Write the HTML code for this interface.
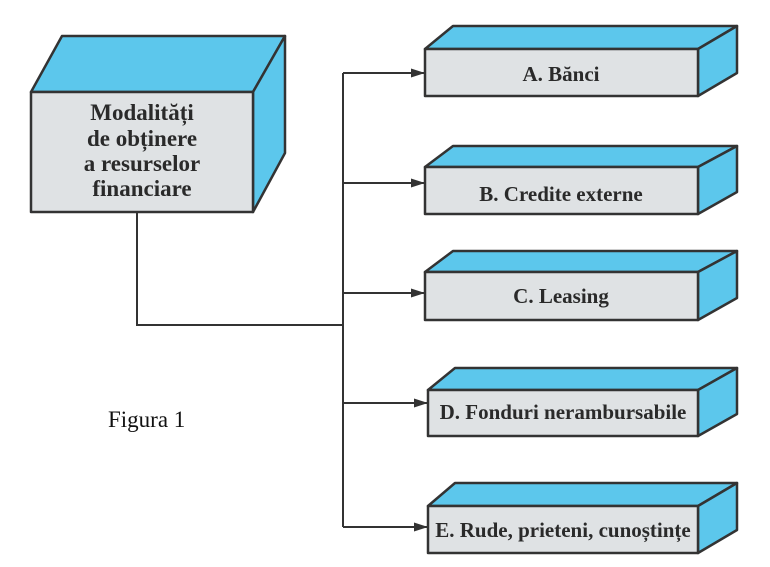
<!DOCTYPE html>
<html><head><meta charset="utf-8"><style>body{margin:0;background:#fff}svg{display:block}</style></head><body>
<svg width="770" height="567" viewBox="0 0 770 567" xmlns="http://www.w3.org/2000/svg">
<defs><marker id="ar" markerWidth="14" markerHeight="9" refX="14" refY="4.5" orient="auto" markerUnits="userSpaceOnUse"><path d="M0,0 L14,4.5 L0,9 z" fill="#333"/></marker></defs>
<g stroke="#333" stroke-width="2.5" stroke-linejoin="round">
<polygon points="31,92 62,36 285,36 253,92" fill="#5cc7ec"/>
<polygon points="253,92 285,36 285,153 253,212" fill="#5cc7ec"/>
<rect x="31" y="92" width="222" height="120" fill="#dfe2e4"/>
<polygon points="425,49 453,26 737,26 698,49" fill="#5cc7ec"/><polygon points="698,49 737,26 737,73 698,96" fill="#5cc7ec"/><rect x="425" y="49" width="273" height="47" fill="#dfe2e4"/>
<polygon points="425,167 453,146 737,146 698,167" fill="#5cc7ec"/><polygon points="698,167 737,146 737,192 698,214" fill="#5cc7ec"/><rect x="425" y="167" width="273" height="47" fill="#dfe2e4"/>
<polygon points="425,272 453,251 737,251 698,272" fill="#5cc7ec"/><polygon points="698,272 737,251 737,298 698,320" fill="#5cc7ec"/><rect x="425" y="272" width="273" height="48" fill="#dfe2e4"/>
<polygon points="428,390 455,368 737,368 698,390" fill="#5cc7ec"/><polygon points="698,390 737,368 737,414 698,436" fill="#5cc7ec"/><rect x="428" y="390" width="270" height="46" fill="#dfe2e4"/>
<polygon points="428,506 455,483 737,483 698,506" fill="#5cc7ec"/><polygon points="698,506 737,483 737,530 698,553" fill="#5cc7ec"/><rect x="428" y="506" width="270" height="47" fill="#dfe2e4"/>
</g>
<g stroke="#333" stroke-width="2" fill="none">
<polyline points="137,212 137,325 343,325"/>
<line x1="343" y1="73" x2="343" y2="527"/>
<line x1="343" y1="73" x2="425" y2="73" marker-end="url(#ar)"/>
<line x1="343" y1="183" x2="425" y2="183" marker-end="url(#ar)"/>
<line x1="343" y1="293" x2="425" y2="293" marker-end="url(#ar)"/>
<line x1="343" y1="403" x2="428" y2="403" marker-end="url(#ar)"/>
<line x1="343" y1="527" x2="428" y2="527" marker-end="url(#ar)"/>
</g>
<g font-family="Liberation Serif, serif" font-weight="bold" fill="#2a2a2a" text-anchor="middle">
<text x="142" y="120" font-size="23">Modalități</text>
<text x="142" y="146" font-size="23">de obținere</text>
<text x="142" y="171" font-size="23">a resurselor</text>
<text x="142" y="196" font-size="23">financiare</text>
<text x="561" y="81" font-size="21">A. Bănci</text>
<text x="561" y="201" font-size="21">B. Credite externe</text>
<text x="561" y="303" font-size="21">C. Leasing</text>
<text x="563" y="419" font-size="21">D. Fonduri nerambursabile</text>
<text x="563" y="537" font-size="21">E. Rude, prieteni, cunoștințe</text>
</g>
<text x="108" y="427" font-family="Liberation Serif, serif" font-size="23" fill="#111">Figura 1</text>
</svg>
</body></html>
